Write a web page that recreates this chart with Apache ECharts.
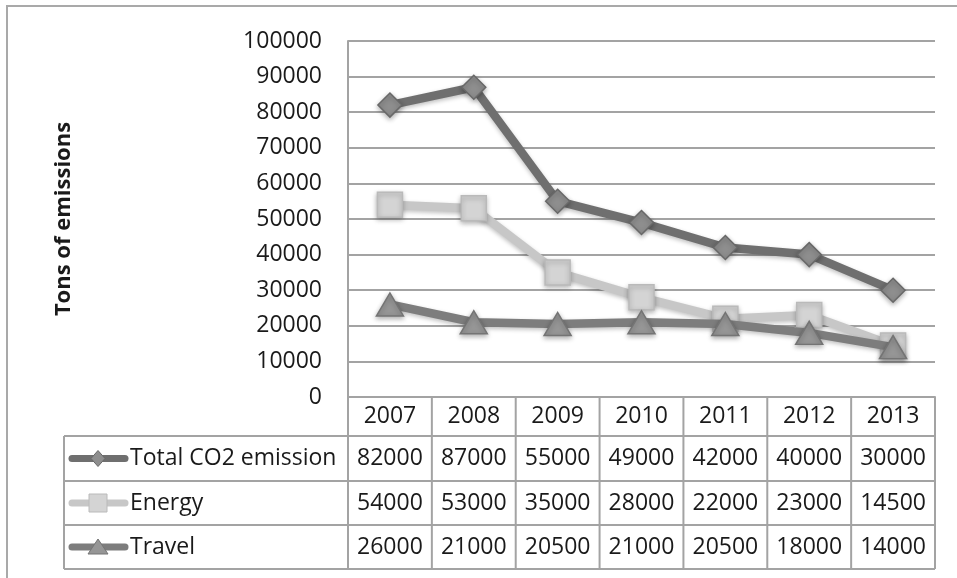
<!DOCTYPE html>
<html><head><meta charset="utf-8">
<script src="https://cdn.jsdelivr.net/npm/echarts@6/dist/echarts.min.js"></script>
<style>html,body{margin:0;padding:0;background:#fff}#c{width:957px;height:578px}</style>
</head><body><div id="c"></div>
<script>
const years = ['2007', '2008', '2009', '2010', '2011', '2012', '2013'];
const totalCO2 = [82000, 87000, 55000, 49000, 42000, 40000, 30000];
const energy = [54000, 53000, 35000, 28000, 22000, 23000, 14500];
const travel = [26000, 21000, 20500, 21000, 20500, 18000, 14000];
const seriesNames = ['Total CO2 emission', 'Energy', 'Travel'];
const yAxisTitle = 'Tons of emissions';
const yMin = 0, yMax = 100000, yInterval = 10000;

const FONT = 'Open Sans';
const TXT = '#1a1a1a';
const GRIDC = '#a3a3a3';

const styles = [
  { line: '#6f6f6f', fill: '#8e8e8e', border: '#686868', symbol: 'diamond', size: [24, 24] },
  { line: '#c7c7c7', fill: '#d4d4d4', border: '#bababa', symbol: 'rect', size: [25, 25] },
  { line: '#7d7d7d', fill: '#969696', border: '#747474', symbol: 'triangle', size: [27, 23] }
];
const dataSets = [totalCO2, energy, travel];

const chart = echarts.init(document.getElementById('c'), null, { renderer: 'canvas' });

const option = {
  animation: false,
  backgroundColor: '#fff',
  grid: { left: 348, right: 22, top: 41, bottom: 181, containLabel: false },
  xAxis: {
    type: 'category', data: years, boundaryGap: true,
    axisLine: { show: true, lineStyle: { color: GRIDC, width: 2 } },
    axisTick: { show: false }, axisLabel: { show: false }, splitLine: { show: false }
  },
  yAxis: {
    type: 'value', min: yMin, max: yMax, interval: yInterval,
    name: yAxisTitle, nameLocation: 'middle', nameRotate: 90, nameGap: 273,
    nameTextStyle: { fontFamily: FONT, fontWeight: 'bold', fontSize: 22, color: TXT },
    axisLine: { show: true, lineStyle: { color: GRIDC, width: 2 } },
    axisTick: { show: false },
    axisLabel: { fontFamily: FONT, fontSize: 23, color: TXT, margin: 26, formatter: v => String(v) },
    splitLine: { show: true, lineStyle: { color: GRIDC, width: 2 } }
  },
  series: dataSets.map((d, i) => ({
    name: seriesNames[i], type: 'line', data: d,
    symbol: styles[i].symbol, symbolSize: styles[i].size,
    lineStyle: { color: styles[i].line, width: 8.5, shadowColor: 'rgba(0,0,0,0.25)', shadowBlur: 4, shadowOffsetY: 2 },
    itemStyle: { color: styles[i].fill, borderColor: styles[i].border, borderWidth: 1.5, shadowColor: 'rgba(0,0,0,0.3)', shadowBlur: 5, shadowOffsetY: 2 },
    z: 3 + i
  }))
};
chart.setOption(option);

// Build data table beneath the plot from the arrays, aligned to the category axis
const c0 = chart.convertToPixel({ xAxisIndex: 0 }, 0);
const c1 = chart.convertToPixel({ xAxisIndex: 0 }, 1);
const bw = c1 - c0;
const tLeft = c0 - bw / 2;
const tRight = tLeft + bw * years.length;
const yZero = chart.convertToPixel({ yAxisIndex: 0 }, 0);
const rowEdges = [yZero, 436, 481, 525, 569];
const legLeft = 64;
const g = [];
const lineS = { stroke: GRIDC, lineWidth: 2 };
for (let r = 1; r < rowEdges.length; r++) {
  g.push({ type: 'line', shape: { x1: legLeft, y1: rowEdges[r], x2: tRight, y2: rowEdges[r] }, style: lineS, silent: true });
}
for (let k = 0; k <= years.length; k++) {
  const x = tLeft + bw * k;
  g.push({ type: 'line', shape: { x1: x, y1: rowEdges[0], x2: x, y2: rowEdges[4] }, style: lineS, silent: true });
}
g.push({ type: 'line', shape: { x1: legLeft, y1: rowEdges[1], x2: legLeft, y2: rowEdges[4] }, style: lineS, silent: true });
years.forEach((yv, k) => {
  g.push({ type: 'text', x: tLeft + bw * (k + 0.5), y: (rowEdges[0] + rowEdges[1]) / 2,
    style: { text: yv, font: '23px "' + FONT + '"', fill: TXT, align: 'center', verticalAlign: 'middle' }, silent: true });
});
dataSets.forEach((d, i) => {
  const cy = (rowEdges[i + 1] + rowEdges[i + 2]) / 2;
  d.forEach((v, k) => {
    g.push({ type: 'text', x: tLeft + bw * (k + 0.5), y: cy,
      style: { text: String(v), font: '23px "' + FONT + '"', fill: TXT, align: 'center', verticalAlign: 'middle' }, silent: true });
  });
  const st = styles[i];
  g.push({ type: 'line', shape: { x1: 72, y1: cy, x2: 125, y2: cy }, style: { stroke: st.line, lineWidth: 7, lineCap: 'round' }, silent: true });
  const mx = 98;
  let shape;
  if (st.symbol === 'diamond') {
    shape = { type: 'polygon', shape: { points: [[mx, cy - 8], [mx + 7, cy], [mx, cy + 8], [mx - 7, cy]] } };
  } else if (st.symbol === 'rect') {
    shape = { type: 'rect', shape: { x: mx - 9, y: cy - 9, width: 18, height: 18 } };
  } else {
    shape = { type: 'polygon', shape: { points: [[mx, cy - 8], [mx + 10, cy + 7], [mx - 10, cy + 7]] } };
  }
  shape.style = { fill: st.fill, stroke: st.border, lineWidth: 1 };
  shape.silent = true;
  g.push(shape);
  g.push({ type: 'text', x: 130, y: cy,
    style: { text: seriesNames[i], font: '23px "' + FONT + '"', fill: TXT, align: 'left', verticalAlign: 'middle' }, silent: true });
});
g.push({ type: 'rect', shape: { x: 7, y: 6, width: 980, height: 600 }, style: { fill: 'none', stroke: '#a9a9a9', lineWidth: 2 }, silent: true, z: -1 });
chart.setOption({ graphic: g });
</script>
</body></html>
